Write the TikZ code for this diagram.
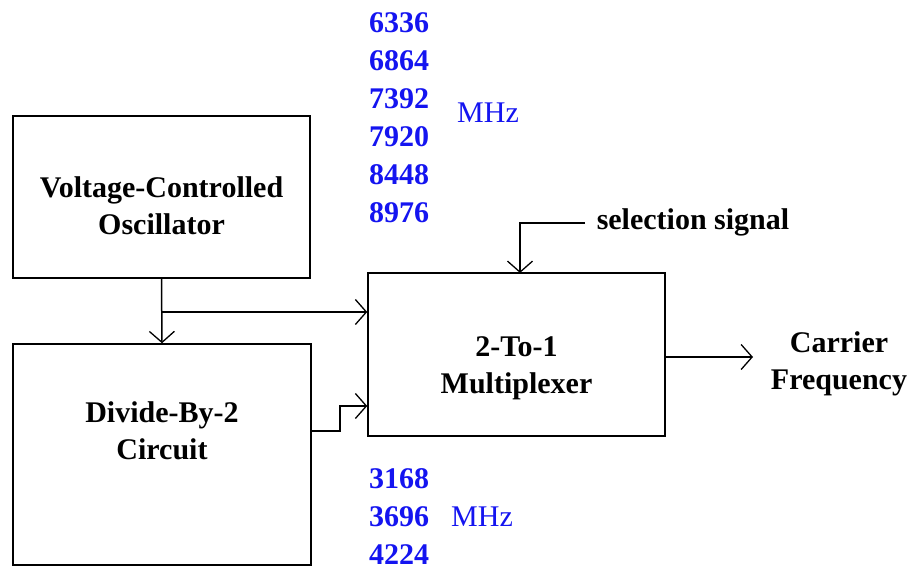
\documentclass[tikz,border=0pt]{standalone}
\usepackage{fontspec}
\setmainfont{Liberation Serif}
\usetikzlibrary{arrows.meta,positioning}
\definecolor{FreqBlue}{HTML}{1414F0}

\begin{document}
\begin{tikzpicture}[
  x=1pt,y=-1pt,
  font=\fontsize{30}{37}\selectfont,
  line width=1.5pt,
  >={Straight Barb[length=11pt,width=25pt,line width=1.3pt]},
  block/.style={draw,rectangle,align=center,inner sep=0pt,
                font=\fontsize{30}{37}\selectfont\bfseries},
  freq/.style={text=FreqBlue,align=center,inner sep=0pt},
]
  \useasboundingbox (0,0) rectangle (914,570);

  % blocks
  \node[block,minimum width=297pt,minimum height=162pt,text height=75pt] (vco)
    at (161.5,197) {Voltage-Controlled\\Oscillator};
  \node[block,minimum width=298pt,minimum height=221pt,text depth=48pt] (div)
    at (162,454.5) {Divide-By-2\\Circuit};
  \node[block,minimum width=297pt,minimum height=163pt,text height=84pt] (mux)
    at (516.5,354.5) {2-To-1\\Multiplexer};

  % frequency lists
  \node[freq,font=\fontsize{30}{38}\selectfont\bfseries] (hilist) at (399,118)
    {6336\\6864\\7392\\7920\\8448\\8976};
  \node[freq] (himhz) at (488,113) {MHz};
  \node[freq,font=\fontsize{30}{38}\selectfont\bfseries] (lolist) at (399,517)
    {3168\\3696\\4224};
  \node[freq] (lomhz) at (482,517) {MHz};

  % labels
  \node[font=\fontsize{30}{37}\selectfont\bfseries,anchor=west,inner sep=0pt]
    (sellabel) at (596,222) {selection signal};
  \node[font=\fontsize{30}{37}\selectfont\bfseries,align=center,inner sep=0pt]
    (carrier) at (839,364) {Carrier\\Frequency};

  % connectors
  \coordinate (split) at (vco.south |- 0,312);
  \coordinate (step) at (340,431);
  \coordinate (selstart) at (585,223);
  \coordinate (outend) at (753,357);

  \draw[->] (vco.south) -- (div.north);
  \draw[->] (split) -- (split -| mux.west);
  \draw[->] (div.east |- step) -- (step) -- (340,406) -- (mux.west |- 0,406);
  \draw[->] (selstart) -- (520,223) -- (520,273);
  \draw[->] (mux.east |- outend) -- (outend);
\end{tikzpicture}
\end{document}
